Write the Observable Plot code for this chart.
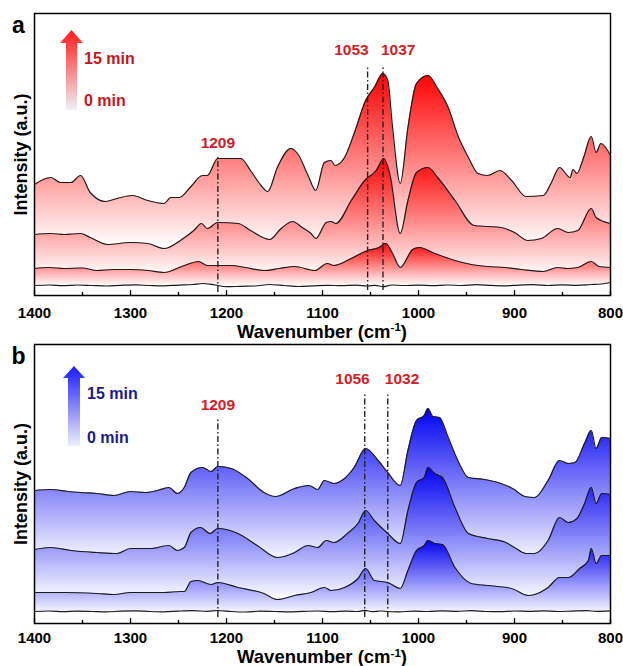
<!DOCTYPE html>
<html><head><meta charset="utf-8">
<script src="https://cdn.jsdelivr.net/npm/d3@7"></script>
<script src="https://cdn.jsdelivr.net/npm/@observablehq/plot@0.6"></script>
<style>
body{margin:0;background:#fff;width:623px;height:666px;overflow:hidden;font-family:"Liberation Sans",Arial,sans-serif}
#chart svg{display:block}
</style></head><body><div id="chart"></div>
<script>
// ---------- DATA ----------
const xTicks = [1400, 1300, 1200, 1100, 1000, 900, 800];
const xMinorTicks = [1350, 1250, 1150, 1050, 950, 850];
const timeLabels = ["15 min", "0 min"];

// Panel a (red) – spectra offset vertically, intensity in a.u.
const a15_wn = [1400,1383,1373,1362,1352,1342,1326,1314,1298,1282,1265,1258,1249,1237,1225,1220,1209,1185,1175,1164,1157,1147,1133,1126,1115,1107,1098,1091,1087,1077,1067,1055,1046,1037,1032,1027,1019,1011,1002,990,980,969,959,948,938,928,915,903,888,870,862,853,842,839,835,828,820,815,810,800];
const a15_I  = [111,118,113,113,120,103,94,97,100,95,92,98,98,109,120,120,137,137,125,110,104,128,147,142,120,105,133,135,130,138,162,195,208,222,215,168,112,168,212,220,207,188,160,138,122,120,125,115,99,100,112,128,118,126,122,138,159,143,152,140];
const a10_wn = [1400,1383,1369,1352,1342,1324,1300,1282,1265,1248,1234,1226,1220,1209,1188,1175,1155,1143,1131,1121,1112,1107,1096,1091,1086,1070,1056,1044,1036,1030,1019,1011,1002,990,980,962,942,928,914,900,886,872,855,844,834,820,815,800];
const a10_I  = [61,62,61,62,58,51,53,52,47,55,65,72,67,73,72,65,56,67,74,68,62,57,73,74,72,95,115,125,137,122,62,95,123,128,118,95,70,69,68,63,55,57,67,63,65,87,78,72];
const a5_wn  = [1400,1385,1369,1350,1335,1318,1300,1282,1265,1244,1229,1220,1195,1180,1161,1145,1129,1108,1095,1088,1070,1053,1041,1034,1027,1019,1006,999,983,962,945,928,910,893,870,855,845,834,820,812,800];
const a5_I   = [27,28,27,27.5,25,26,26,25,23,30,34,30,30,28,25,27,29,25,32,30,37,45,48,52,42,28,46,48,42,35,31,29,28,26,24,28,27,28,34,29,28];
const a0_wn  = [1400,1385,1370,1355,1340,1325,1310,1295,1280,1265,1250,1235,1225,1212,1200,1185,1170,1155,1140,1125,1110,1095,1080,1065,1053,1045,1037,1028,1015,1000,985,970,955,940,925,910,895,880,865,850,835,820,810,800];
const a0_I   = [10,10.5,9.8,10.5,10,9.5,10.2,10.6,10,9.6,10.4,11,12,10.5,8.8,9.2,9.5,11,10,9,9.6,10.2,9.8,10.4,9.5,10.2,8.8,10.5,10,10.4,9.8,10.5,10,10.8,10.2,9.6,10.4,10.8,10,10.6,10.2,11,11.5,13];
const aFloor = [50, 20, 9, null];
const aPeaks = [1209, 1053, 1037];

// Panel b (blue)
const b15_wn = [1400,1383,1365,1352,1335,1317,1300,1285,1272,1260,1251,1244,1237,1225,1216,1209,1195,1178,1161,1149,1129,1114,1105,1098,1088,1077,1067,1055,1042,1032,1019,1011,1002,994,990,985,978,969,959,948,931,914,902,889,879,865,853,844,837,827,820,815,809,800];
const b15_I  = [133,134,132,131,130,128,132,131,133,136,130,136,151,156,152,157,155,145,131,127,135,138,134,143,140,145,156,175,163,151,138,173,203,208,215,207,206,186,163,146,144,140,135,127,126,143,163,160,161,180,193,175,186,185];
const b10_wn = [1400,1383,1362,1335,1314,1300,1279,1260,1251,1244,1237,1227,1217,1209,1188,1168,1147,1129,1115,1105,1096,1088,1074,1063,1055,1046,1032,1019,1011,1002,994,990,983,975,962,948,928,909,900,888,879,865,853,844,835,827,820,815,809,800];
const b10_I  = [74,76,73,71,70,75,75,78,73,76,91,96,90,95,90,78,66,71,78,76,83,81,90,100,113,103,90,80,113,141,146,156,150,146,116,90,85,81,76,70,70,83,106,101,105,120,136,120,130,129];
const b5_wn  = [1400,1369,1335,1317,1300,1265,1248,1244,1237,1230,1216,1209,1188,1161,1147,1129,1112,1098,1091,1077,1063,1055,1046,1032,1019,1011,1002,994,990,983,975,962,945,928,903,886,879,865,853,844,832,823,820,815,809,800];
const b5_I   = [31,31,30,29,31,31,32,32,42,43,39,41,36,30,24,28,31,36,33,36,45,55,43,41,35,53,73,78,83,80,79,56,40,38,35,28,29,36,46,46,55,63,75,60,68,68];
const b0_wn  = [1400,1385,1370,1355,1340,1325,1310,1295,1280,1265,1250,1235,1220,1209,1195,1180,1165,1150,1135,1120,1105,1090,1075,1063,1056,1048,1040,1032,1020,1005,990,975,960,945,930,915,900,885,870,855,840,825,815,800];
const b0_I   = [12,12.5,11.8,12.4,12,11.6,12.3,12.6,12,11.7,12.4,12.8,12.2,13,12,11.5,12.3,12,11.6,12.2,12.5,11.8,12.4,12,13.2,11.8,12.5,12,11.6,12.4,12,12.6,12.2,12.8,12,11.8,12.5,12.2,12.6,12,12.4,12.8,12.2,12.6];
const bFloor = [65, 28, 11, null];
const bPeaks = [1209, 1056, 1032];

// ---------- LAYOUT / STYLE ----------
const panels = [
  {id: "a", height: 338, marginTop: 13, yMax: 282, color: "#ff0000", end: "#ffffff",
   legendColor: "#c3161d", arrowTop: "#ff1a1a",
   series: [[a15_wn, a15_I], [a10_wn, a10_I], [a5_wn, a5_I], [a0_wn, a0_I]], floors: aFloor,
   peaks: aPeaks, ruleSpan: [[3, 138], [5, 230], [5, 230]], labelY: [152, 245, 245],
   labelAnchor: ["middle", "end", "start"], labelDx: [0, 1, -2],
   tickPad: 16.5, titleDy: 42.5, letterDy: 12,
   arrow: {cx: 71.5, tip: 30, hb: 43, hl: 60, hr: 83, sl: 66, sr: 77, bot: 110, tx: 84, t1: 63.5, t2: 105.5}},
  {id: "b", height: 328, marginTop: 6, yMax: 279, color: "#0000f2", end: "#f6f6ff",
   legendColor: "#1a1a8c", arrowTop: "#1a1aff",
   series: [[b15_wn, b15_I], [b10_wn, b10_I], [b5_wn, b5_I], [b0_wn, b0_I]], floors: bFloor,
   peaks: bPeaks, ruleSpan: [[6, 206], [6, 230], [6, 230]], labelY: [218, 244, 244],
   labelAnchor: ["middle", "end", "start"], labelDx: [0, 5, -3],
   tickPad: 14, titleDy: 40, letterDy: 12.5,
   arrow: {cx: 74, tip: 28, hb: 40, hl: 63, hr: 85, sl: 68, sr: 80, bot: 108, tx: 87, t1: 60.5, t2: 104.5}}
];

function makePanel(p) {
  const marks = [];
  p.series.forEach(([wn, I], i) => {
    const data = wn.map((w, j) => ({wn: w, I: I[j], floor: p.floors[i]}));
    if (p.floors[i] != null) {
      marks.push(Plot.areaY(data, {x: "wn", y1: "floor", y2: "I", fill: `url(#grad-${p.id})`, curve: "monotone-x"}));
    }
    marks.push(Plot.lineY(data, {x: "wn", y: "I", stroke: "#1c1c1c", strokeWidth: 1.2, curve: "monotone-x"}));
  });
  p.peaks.forEach((wn, i) => {
    const d = [{wn, y1: p.ruleSpan[i][0], y2: p.ruleSpan[i][1], ly: p.labelY[i]}];
    marks.push(Plot.ruleX(d, {x: "wn", y1: "y1", y2: "y2", stroke: "#222", strokeWidth: 1.4, strokeDasharray: "6,2.5,1.5,2.5"}));
    marks.push(Plot.text(d, {x: "wn", y: "ly", text: (r) => String(r.wn), textAnchor: p.labelAnchor[i], dx: p.labelDx[i],
      fill: "#d32027", fontWeight: "bold", fontSize: 15.5}));
  });
  marks.push(Plot.axisX(xMinorTicks, {tickSize: -3, tickFormat: () => "", strokeWidth: 1.3, label: null}));
  marks.push(Plot.axisX(xTicks, {tickSize: -5, tickPadding: p.tickPad, tickFormat: (d) => String(d), strokeWidth: 1.3, fontSize: 15, fontWeight: "bold", label: null}));
  marks.push(Plot.text(["Intensity (a.u.)"], {frameAnchor: "left", dx: -13, rotate: -90, textAnchor: "middle", lineAnchor: "middle", fontWeight: "bold", fontSize: 18, fill: "#000"}));
  marks.push(Plot.text([p.id], {frameAnchor: "top-left", dx: -16, dy: p.letterDy, textAnchor: "middle", lineAnchor: "middle", fontWeight: "bold", fontSize: 23, fill: "#000"}));
  marks.push(Plot.frame({stroke: "#000", strokeWidth: 1.5}));

  const chart = Plot.plot({
    width: 623, height: p.height,
    marginLeft: 34, marginRight: 13, marginTop: p.marginTop, marginBottom: 43,
    style: {fontFamily: "'Liberation Sans', Arial, sans-serif", color: "#000", background: "#fff", overflow: "visible"},
    x: {domain: [1400, 800], axis: null},
    y: {domain: [0, p.yMax], axis: null},
    marks
  });

  const svg = d3.select(chart);
  const defs = svg.insert("defs", ":first-child");
  const g1 = defs.append("linearGradient").attr("id", `grad-${p.id}`).attr("x1", 0).attr("y1", 0).attr("x2", 0).attr("y2", 1);
  g1.append("stop").attr("offset", 0).attr("stop-color", p.color);
  g1.append("stop").attr("offset", 1).attr("stop-color", p.end);
  const g2 = defs.append("linearGradient").attr("id", `arrow-${p.id}`).attr("x1", 0).attr("y1", 0).attr("x2", 0).attr("y2", 1);
  g2.append("stop").attr("offset", 0).attr("stop-color", p.arrowTop);
  g2.append("stop").attr("offset", 1).attr("stop-color", "#eef0f6");

  // x-axis title with superscript
  const xr = chart.scale("x").range, yr = chart.scale("y").range;
  const t = svg.append("text").attr("x", (xr[0] + xr[1]) / 2).attr("y", yr[0] + p.titleDy)
    .attr("text-anchor", "middle").attr("font-weight", "bold").attr("font-size", 18.5).attr("fill", "#000");
  t.append("tspan").text("Wavenumber (cm");
  t.append("tspan").attr("dy", -6.5).attr("font-size", 11.5).text("-1");
  t.append("tspan").attr("dy", 6.5).text(")");

  // time legend arrow
  const a = p.arrow;
  svg.append("polygon")
    .attr("points", `${a.cx},${a.tip} ${a.hr},${a.hb} ${a.sr},${a.hb} ${a.sr},${a.bot} ${a.sl},${a.bot} ${a.sl},${a.hb} ${a.hl},${a.hb}`)
    .attr("fill", `url(#arrow-${p.id})`);
  [a.t1, a.t2].forEach((ty, i) => {
    svg.append("text").attr("x", a.tx).attr("y", ty).attr("text-anchor", "start").attr("font-weight", "bold").attr("font-size", 16)
      .attr("fill", p.legendColor).text(timeLabels[i]);
  });
  return chart;
}

const root = document.getElementById("chart");
panels.forEach(p => root.appendChild(makePanel(p)));
</script>
</body></html>
